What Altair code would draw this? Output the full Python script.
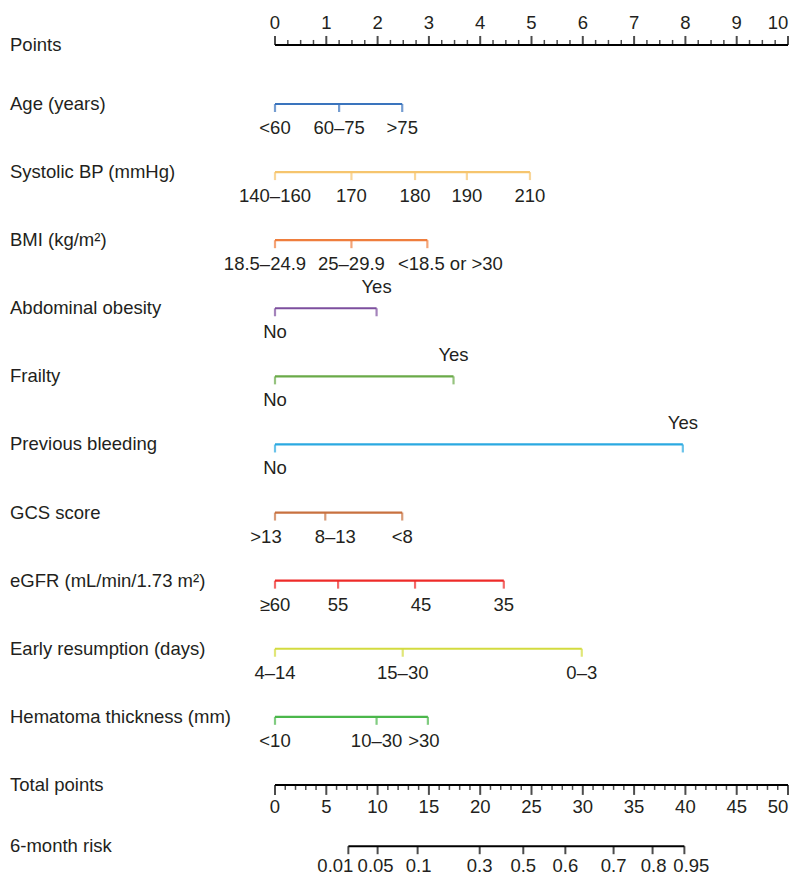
import altair as alt
import pandas as pd

FONT = "Liberation Sans"
TXT = "#231f20"
FS = 18.5

# ---------------- data ----------------
points_major = list(range(0, 11))
points_minor = [i / 4 for i in range(0, 41) if i % 4 != 0]

variables = [
    "Age (years)", "Systolic BP (mmHg)", "BMI (kg/m²)", "Abdominal obesity",
    "Frailty", "Previous bleeding", "GCS score", "eGFR (mL/min/1.73 m²)",
    "Early resumption (days)", "Hematoma thickness (mm)",
]
colors = ["#3a74bd", "#f6c56e", "#ef7e3d", "#7d4f9e", "#6aaa48",
          "#2ba9e1", "#c8713f", "#ee2b29", "#d3db3f", "#4bb74b"]

age_labels = ["<60", "60–75", ">75"]
age_pts = [0, 1.25, 2.48]
sbp_labels = ["140–160", "170", "180", "190", "210"]
sbp_pts = [0, 1.49, 2.73, 3.74, 4.97]
bmi_labels = ["18.5–24.9", "25–29.9", "<18.5 or >30"]
bmi_pts = [0, 1.49, 2.97]
abd_labels = ["No", "Yes"]
abd_pts = [0, 1.98]
frail_labels = ["No", "Yes"]
frail_pts = [0, 3.48]
bleed_labels = ["No", "Yes"]
bleed_pts = [0, 7.95]
gcs_labels = [">13", "8–13", "<8"]
gcs_pts = [0, 0.98, 2.48]
egfr_labels = ["≥60", "55", "45", "35"]
egfr_pts = [0, 1.23, 2.73, 4.46]
early_labels = ["4–14", "15–30", "0–3"]
early_pts = [0, 2.49, 5.98]
hema_labels = ["<10", "10–30", ">30"]
hema_pts = [0, 1.98, 2.98]

level_labels = [age_labels, sbp_labels, bmi_labels, abd_labels, frail_labels,
                bleed_labels, gcs_labels, egfr_labels, early_labels, hema_labels]
level_pts = [age_pts, sbp_pts, bmi_pts, abd_pts, frail_pts,
             bleed_pts, gcs_pts, egfr_pts, early_pts, hema_pts]

total_major = list(range(0, 51, 5))
total_minor = [i for i in range(0, 51) if i % 5 != 0]

risk_labels = ["0.01", "0.05", "0.1", "0.3", "0.5", "0.6", "0.7", "0.8", "0.95"]
risk_total = [7.15, 10.0, 13.9, 19.95, 24.2, 28.3, 33.0, 36.8, 39.9]

# ---------------- layout (not data) ----------------
ROW_POINTS = 0.133
ROW_TOTAL = 11
ROW_RISK = 11.9
PX_PER_PT = 51.3
label_nudge = {"18.5–24.9": -10, "<18.5 or >30": 23, ">13": -9, "8–13": 10, "45": 6,
               ">30": -4}
risk_nudge = {"0.01": -13, "0.05": -2, "0.1": 1, "0.8": 1, "0.95": 7}
edge_nudge = -10  # keeps the last scale label inside the page

X = alt.Scale(domain=[0, 10], range=[267, 780])
XT = alt.Scale(domain=[0, 50], range=[267, 780])
Y = alt.Scale(domain=[1, 12], range=[96, 845])
C = alt.Scale(domain=variables, range=colors)

# ---------------- tables ----------------
row_names = pd.DataFrame({
    "name": ["Points"] + variables + ["Total points", "6-month risk"],
    "row": [ROW_POINTS] + list(range(1, 11)) + [ROW_TOTAL, ROW_RISK],
})

seg = pd.DataFrame({
    "var": variables,
    "row": list(range(1, 11)),
    "start": [min(p) for p in level_pts],
    "end": [max(p) for p in level_pts],
})

recs = []
for i, (v, labs, pts) in enumerate(zip(variables, level_labels, level_pts)):
    for lab, p in zip(labs, pts):
        above = (len(labs) == 2 and lab == "Yes")
        recs.append({"var": v, "row": i + 1, "pts": p, "label": lab,
                     "above": above, "nudge": label_nudge.get(lab, 0)})
levels = pd.DataFrame(recs)
levels["xl"] = levels["pts"] + levels["nudge"] / PX_PER_PT

pts_major_df = pd.DataFrame({"v": points_major, "row": ROW_POINTS})
pts_major_df["xl"] = pts_major_df["v"] + (pts_major_df["v"] == max(points_major)) * edge_nudge / PX_PER_PT
pts_minor_df = pd.DataFrame({"v": points_minor, "row": ROW_POINTS})
pts_line_df = pd.DataFrame({"a": [0], "b": [10], "row": [ROW_POINTS]})

tot_major_df = pd.DataFrame({"v": total_major, "row": ROW_TOTAL})
tot_major_df["xl"] = tot_major_df["v"] + (tot_major_df["v"] == max(total_major)) * edge_nudge / (PX_PER_PT / 5)
tot_minor_df = pd.DataFrame({"v": total_minor, "row": ROW_TOTAL})
tot_line_df = pd.DataFrame({"a": [0], "b": [50], "row": [ROW_TOTAL]})

risk_df = pd.DataFrame({"v": risk_total, "label": risk_labels, "row": ROW_RISK})
risk_df["xl"] = risk_df["v"] + risk_df["label"].map(lambda s: risk_nudge.get(s, 0)) / (PX_PER_PT / 5)
risk_line_df = pd.DataFrame({"a": [min(risk_total)], "b": [max(risk_total)], "row": [ROW_RISK]})

ya = alt.Y("row:Q", scale=Y, axis=None)

# ---------------- layers ----------------
names = alt.Chart(row_names).mark_text(
    align="left", baseline="middle", font=FONT, fontSize=FS, color=TXT
).encode(x=alt.value(2), y=ya, text="name:N")

# Points axis
p_line = alt.Chart(pts_line_df).mark_rule(color="black", strokeWidth=2).encode(
    x=alt.X("a:Q", scale=X, axis=None), x2="b:Q", y=ya)
p_major = alt.Chart(pts_major_df).mark_tick(
    orient="vertical", size=9, thickness=2, yOffset=-4.5, color="black"
).encode(x=alt.X("v:Q", scale=X, axis=None), y=ya)
p_minor = alt.Chart(pts_minor_df).mark_tick(
    orient="vertical", size=5, thickness=1.5, yOffset=-2.5, color="black"
).encode(x=alt.X("v:Q", scale=X, axis=None), y=ya)
p_lab = alt.Chart(pts_major_df).mark_text(
    baseline="middle", dy=-22, font=FONT, fontSize=FS, color=TXT
).encode(x=alt.X("xl:Q", scale=X, axis=None), y=ya, text="v:Q")

# Variables
v_line = alt.Chart(seg).mark_rule(strokeWidth=2.2).encode(
    x=alt.X("start:Q", scale=X, axis=None), x2="end:Q", y=ya,
    color=alt.Color("var:N", scale=C, legend=None))
v_tick = alt.Chart(levels).mark_tick(
    orient="vertical", size=8, thickness=2.2, yOffset=4
).encode(x=alt.X("pts:Q", scale=X, axis=None), y=ya,
         color=alt.Color("var:N", scale=C, legend=None))
v_lab_below = alt.Chart(levels).transform_filter("!datum.above").mark_text(
    baseline="middle", dy=24, font=FONT, fontSize=FS, color=TXT
).encode(x=alt.X("xl:Q", scale=X, axis=None), y=ya, text="label:N")
v_lab_above = alt.Chart(levels).transform_filter("datum.above").mark_text(
    baseline="middle", dy=-21, font=FONT, fontSize=FS, color=TXT
).encode(x=alt.X("xl:Q", scale=X, axis=None), y=ya, text="label:N")

# Total points axis
t_line = alt.Chart(tot_line_df).mark_rule(color="black", strokeWidth=2).encode(
    x=alt.X("a:Q", scale=XT, axis=None), x2="b:Q", y=ya)
t_major = alt.Chart(tot_major_df).mark_tick(
    orient="vertical", size=10, thickness=2, yOffset=5, color="black"
).encode(x=alt.X("v:Q", scale=XT, axis=None), y=ya)
t_minor = alt.Chart(tot_minor_df).mark_tick(
    orient="vertical", size=5, thickness=1.5, yOffset=2.5, color="black"
).encode(x=alt.X("v:Q", scale=XT, axis=None), y=ya)
t_lab = alt.Chart(tot_major_df).mark_text(
    baseline="middle", dy=22, font=FONT, fontSize=FS, color=TXT
).encode(x=alt.X("xl:Q", scale=XT, axis=None), y=ya, text="v:Q")

# Risk axis
r_line = alt.Chart(risk_line_df).mark_rule(color="black", strokeWidth=2).encode(
    x=alt.X("a:Q", scale=XT, axis=None), x2="b:Q", y=ya)
r_tick = alt.Chart(risk_df).mark_tick(
    orient="vertical", size=8, thickness=2, yOffset=4, color="black"
).encode(x=alt.X("v:Q", scale=XT, axis=None), y=ya)
r_lab = alt.Chart(risk_df).mark_text(
    baseline="middle", dy=20, font=FONT, fontSize=FS, color=TXT
).encode(x=alt.X("xl:Q", scale=XT, axis=None), y=ya, text="label:N")

chart = alt.layer(
    names, p_line, p_major, p_minor, p_lab,
    v_line, v_tick, v_lab_below, v_lab_above,
    t_line, t_major, t_minor, t_lab,
    r_line, r_tick, r_lab,
).resolve_scale(x="independent").properties(
    width=781, height=869, padding=0, autosize=alt.AutoSizeParams(type="none")
).configure(background="white", view=alt.ViewConfig(stroke=None))

chart.save("out.html", embed_options={"renderer": "svg", "actions": False})
